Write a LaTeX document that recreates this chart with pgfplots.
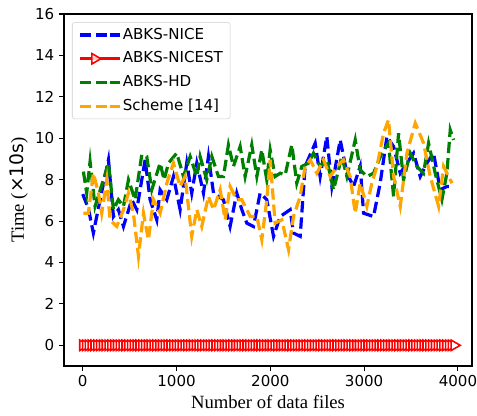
\documentclass[border=0pt]{standalone}
\usepackage{pgfplots}
\pgfplotsset{compat=1.18}
\usepackage{fontspec}
\setmainfont{DejaVu Sans}
\newfontfamily\serif{Liberation Serif}
\definecolor{mblue}{RGB}{0,0,255}
\definecolor{mred}{RGB}{255,0,0}
\definecolor{mgreen}{RGB}{0,128,0}
\definecolor{morange}{RGB}{255,165,0}
\begin{document}
\begin{tikzpicture}
\useasboundingbox (-48pt,-36.75pt) rectangle (309.75pt,274.5pt);
\begin{axis}[
  at={(0,0)}, anchor=south west,
  scale only axis, width=306pt, height=264pt,
  xmin=-200, xmax=4150, ymin=-1, ymax=16,
  xtick={0,1000,2000,3000,4000},
  ytick={0,2,4,6,8,10,12,14,16},
  xtick pos=bottom, ytick pos=left,
  tick align=outside, major tick length=3.75pt,
  every tick/.style={black, line width=0.8pt},
  axis line style={black, line width=0.8pt},
  tick label style={font=\fontsize{11.3}{13}\selectfont},
  /pgf/number format/assume math mode=true,
  /pgf/number format/set thousands separator={},
  xlabel={\serif Number of data files},
  ylabel={{\serif Time (}×10s{\serif )}},
  label style={font=\fontsize{14}{16}\selectfont},
  xlabel style={at={(axis description cs:0.5,-0.1193)}, anchor=base},
  ylabel style={at={(axis description cs:-0.1103,0.5)}, anchor=center},
  legend style={at={(0.0196,0.977)}, anchor=north west,
    draw=black!20, rounded corners=2pt, fill=white, fill opacity=0.8, text opacity=1,
    font=\fontsize{11.3}{13}\selectfont, row sep=4.8pt, inner xsep=4.5pt, inner ysep=3pt,
    nodes={inner sep=1pt, text height=8.5pt, text depth=2.5pt}},
  legend cell align=left,
  legend image code/.code={\draw[mark repeat=2,mark phase=2,#1] plot coordinates {(0pt,0pt) (11.25pt,0pt) (22.5pt,0pt)};\path (22.5pt,0pt) -- (30pt,0pt);},
  dl/.style={line width=2.4pt, dash pattern=on 8.5pt off 3.7pt},
]
\addplot[mblue, dl] coordinates {
(0,7.3) (60,6.6) (113,5.42) (185,7.03) (274,8.96) (327,6.22) (380,6.55) (434,5.74) (522,7.03) (576,6.55) (665,8.96) (718,7.03) (789,6.06) (825,7.51) (896,7.03) (967,8.15) (1038,6.55) (1109,8.80) (1162,7.35) (1216,8.80) (1287,7.35) (1340,9.12) (1394,7.35) (1500,7.03) (1571,5.74) (1642,7.35) (1696,6.55) (1749,5.90) (1820,5.74) (1891,7.35) (1962,7.03) (2034,5.26) (2105,6.22) (2211,6.55) (2247,5.42) (2318,5.26) (2371,8.64) (2478,9.76) (2531,8.15) (2602,10.08) (2656,7.67) (2745,9.92) (2816,8.31) (2887,7.67) (2958,8.64) (2994,6.38) (3100,6.22) (3171,7.83) (3243,10.08) (3314,9.60) (3385,8.31) (3456,8.80) (3527,9.28) (3598,8.15) (3669,8.80) (3740,9.28) (3811,7.51) (3882,7.67) (3936,7.67)
};
\addlegendentry{ABKS-NICE}
\addplot[mred, line width=2pt, mark=triangle*, mark size=4.5pt, mark options={solid, rotate=-90, fill=white, draw=mred, line width=1.2pt}] coordinates {
(0,0) (30,0) (60,0) (90,0) (120,0) (150,0) (180,0) (210,0) (240,0) (270,0) (300,0) (330,0) (360,0) (390,0) (420,0) (450,0) (480,0) (510,0) (540,0) (570,0) (600,0) (630,0) (660,0) (690,0) (720,0) (750,0) (780,0) (810,0) (840,0) (870,0) (900,0) (930,0) (960,0) (990,0) (1020,0) (1050,0) (1080,0) (1110,0) (1140,0) (1170,0) (1200,0) (1230,0) (1260,0) (1290,0) (1320,0) (1350,0) (1380,0) (1410,0) (1440,0) (1470,0) (1500,0) (1530,0) (1560,0) (1590,0) (1620,0) (1650,0) (1680,0) (1710,0) (1740,0) (1770,0) (1800,0) (1830,0) (1860,0) (1890,0) (1920,0) (1950,0) (1980,0) (2010,0) (2040,0) (2070,0) (2100,0) (2130,0) (2160,0) (2190,0) (2220,0) (2250,0) (2280,0) (2310,0) (2340,0) (2370,0) (2400,0) (2430,0) (2460,0) (2490,0) (2520,0) (2550,0) (2580,0) (2610,0) (2640,0) (2670,0) (2700,0) (2730,0) (2760,0) (2790,0) (2820,0) (2850,0) (2880,0) (2910,0) (2940,0) (2970,0) (3000,0) (3030,0) (3060,0) (3090,0) (3120,0) (3150,0) (3180,0) (3210,0) (3240,0) (3270,0) (3300,0) (3330,0) (3360,0) (3390,0) (3420,0) (3450,0) (3480,0) (3510,0) (3540,0) (3570,0) (3600,0) (3630,0) (3660,0) (3690,0) (3720,0) (3750,0) (3780,0) (3810,0) (3840,0) (3870,0) (3900,0) (3930,0) (3960,0)
};
\addlegendentry{ABKS-NICEST}
\addplot[mgreen, dl] coordinates {
(7,8.39) (42,7.35) (78,8.88) (131,6.71) (220,7.99) (274,8.80) (327,6.55) (380,7.03) (434,6.7) (487,7.99) (558,7.03) (629,9.20) (682,9.12) (736,7.51) (825,8.80) (867,7.99) (914,8.80) (1002,9.28) (1074,8.15) (1145,9.12) (1216,8.15) (1251,9.12) (1322,7.99) (1376,9.12) (1447,8.15) (1500,8.15) (1553,9.68) (1607,8.64) (1678,9.60) (1731,8.15) (1802,9.68) (1856,8.15) (1909,9.44) (1962,7.99) (1998,9.44) (2051,8.15) (2105,8.31) (2158,8.23) (2229,9.68) (2282,7.83) (2336,8.64) (2407,8.80) (2460,9.28) (2531,8.64) (2602,8.96) (2674,7.51) (2762,9.12) (2816,8.15) (2905,9.92) (2958,8.47) (3029,8.15) (3100,8.31) (3189,9.28) (3260,9.76) (3314,7.19) (3367,10.24) (3420,7.99) (3491,9.28) (3562,8.64) (3633,8.31) (3687,9.76) (3758,8.31) (3829,7.03) (3882,8.31) (3918,10.40) (3954,9.92)
};
\addlegendentry{ABKS-HD}
\addplot[morange, dl] coordinates {
(7,6.38) (60,6.38) (113,8.31) (167,7.35) (202,6.38) (256,7.99) (291,6.06) (362,5.74) (434,6.55) (487,7.35) (540,6.38) (594,4.30) (647,6.38) (700,5.10) (754,7.03) (825,6.38) (896,7.83) (967,8.80) (1038,7.67) (1091,8.15) (1162,5.26) (1216,6.55) (1269,5.74) (1340,7.19) (1394,6.55) (1465,7.51) (1518,6.06) (1571,7.67) (1642,7.03) (1696,7.03) (1785,6.22) (1856,6.22) (1909,5.10) (1962,7.03) (1998,8.96) (2051,5.90) (2122,6.06) (2194,4.62) (2247,6.22) (2318,7.19) (2371,8.64) (2425,8.96) (2496,8.31) (2567,8.96) (2638,8.15) (2709,8.64) (2780,8.96) (2851,8.15) (2905,6.38) (2958,7.83) (3029,6.71) (3082,7.83) (3136,8.64) (3207,10.24) (3260,10.89) (3314,8.15) (3385,6.71) (3456,9.28) (3545,10.73) (3634,9.76) (3705,8.15) (3794,6.71) (3847,8.64) (3936,7.83)
};
\addlegendentry{Scheme [14]}
\end{axis}
\end{tikzpicture}
\end{document}
